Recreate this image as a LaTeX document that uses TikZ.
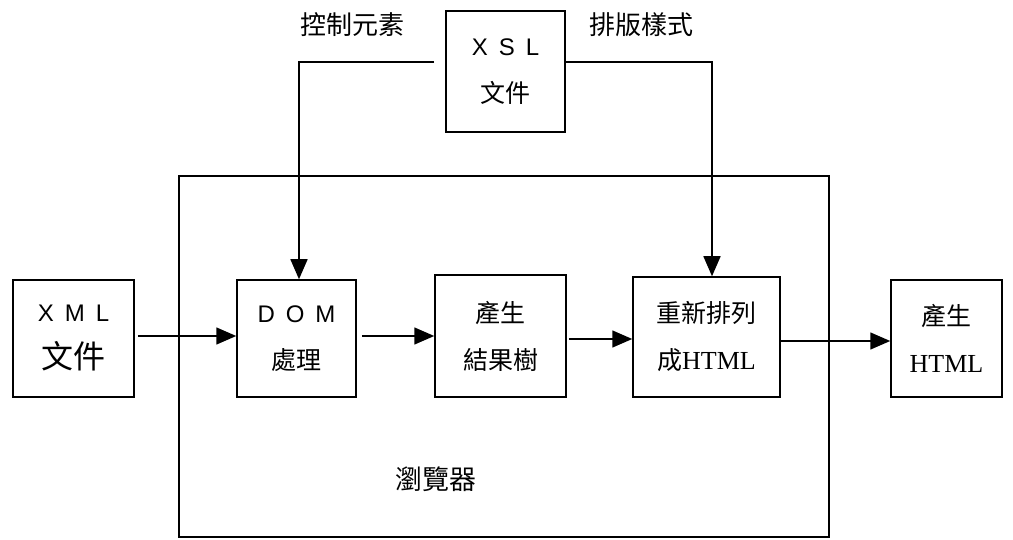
\documentclass[tikz,border=0pt]{standalone}
\usepackage{fontspec}
\setmainfont{Liberation Serif}
\newfontfamily\cjk{Noto Sans CJK TC}
\newfontfamily\lat{Liberation Sans}
\newfontfamily\ser{Liberation Serif}
\usetikzlibrary{arrows.meta}
\newcommand{\lsp}{\hspace{11pt}}
\begin{document}
\begin{tikzpicture}[x=1pt,y=-1pt,
  box/.style={draw,line width=1.5pt,rectangle,inner sep=0pt,align=center,
    font=\cjk\fontsize{25}{47}\selectfont},
  arr/.style={line width=1.5pt,-{Triangle[length=20pt,width=17pt]}},
  lbl/.style={font=\cjk\fontsize{26}{28}\selectfont,inner sep=0pt}]
\useasboundingbox (0,0) rectangle (1013,540);
\node[draw,line width=1.5pt,minimum width=650pt,minimum height=361pt,inner sep=0pt] (browser) at (504,356.5) {};
\node[lbl,font=\cjk\fontsize{27}{30}\selectfont] (blabel) at (436,479) {瀏覽器};
\node[box,minimum width=119pt,minimum height=121pt] (xsl) at (505.5,71.5) {{\lat\fontsize{24}{47}\selectfont X\lsp S\lsp L}\\文件};
\node[box,minimum width=121pt,minimum height=117pt] (xml) at (73.5,338.5) {{\lat\fontsize{24}{47}\selectfont X\lsp M\lsp L}\\{\fontsize{32}{32}\selectfont 文件}};
\node[box,minimum width=119pt,minimum height=117pt] (dom) at (296.5,338.5) {{\lat\fontsize{24}{47}\selectfont D\lsp O\lsp M}\\處理};
\node[box,minimum width=131pt,minimum height=122pt] (tree) at (500.5,336) {產生\\結果樹};
\node[box,minimum width=147pt,minimum height=120pt] (rearr) at (706.5,337) {重新排列\\成{\ser\fontsize{26}{47}\selectfont HTML}};
\node[box,minimum width=111pt,minimum height=117pt] (html) at (946.5,338.5) {產生\\{\ser\fontsize{26}{47}\selectfont HTML}};
\node[lbl] (ctl) at (352,25) {控制元素};
\node[lbl] (fmt) at (641,25) {排版樣式};
\coordinate (cl) at (434,62);
\coordinate (cr) at (xsl.east |- 0,62);
\draw[arr] (cl) -| (299,0 |- dom.north);
\draw[arr] (cr) -| (712,0 |- rearr.north);
\draw[arr] (xml.east |- 0,336) ++(3,0) -- (dom.west |- 0,336);
\draw[arr] (dom.east |- 0,336) ++(5,0) -- (tree.west |- 0,336);
\draw[arr] (tree.east |- 0,339) ++(2,0) -- (rearr.west |- 0,339);
\draw[arr] (rearr.east |- 0,341) -- (html.west |- 0,341);
\end{tikzpicture}
\end{document}
